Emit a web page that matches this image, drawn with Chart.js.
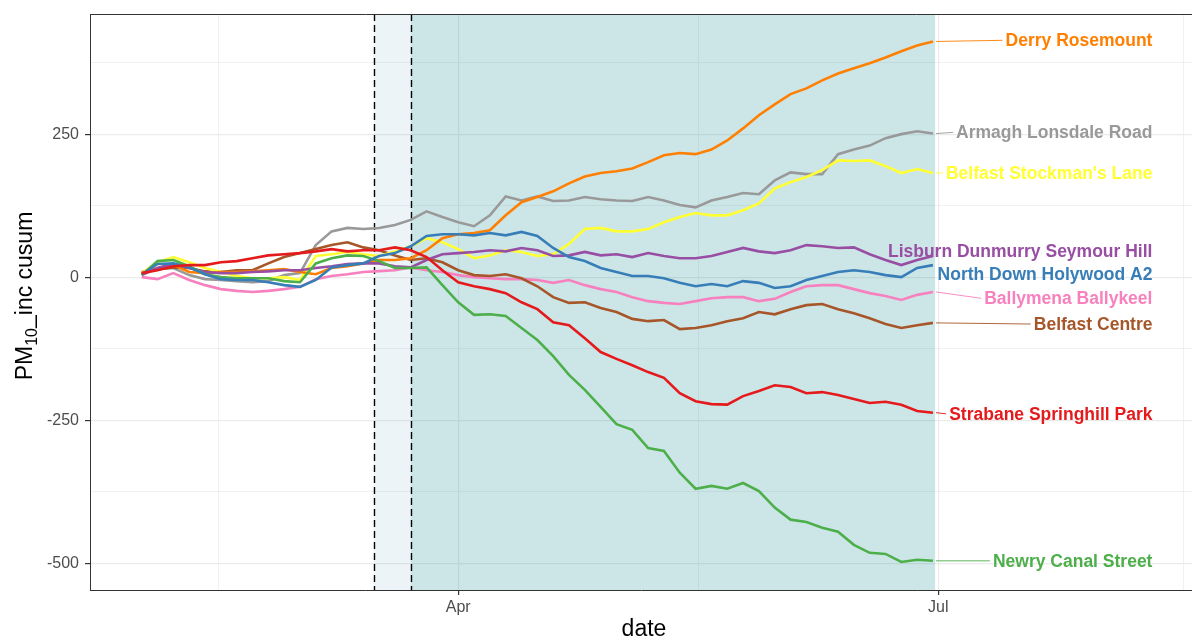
<!DOCTYPE html>
<html>
<head>
<meta charset="utf-8">
<script src="https://cdn.jsdelivr.net/npm/chart.js@4.4.1/dist/chart.umd.min.js"></script>
<style>
  html, body { margin: 0; padding: 0; background: #fff; }
  #wrap { width: 1192px; height: 639px; }
</style>
</head>
<body>
<div id="wrap"><canvas id="mainChart" width="1192" height="639"></canvas></div>
<script>
// fechas (cada 3 dias)
const dates = ['2020-02-01','2020-02-04','2020-02-07','2020-02-10','2020-02-13','2020-02-16','2020-02-19','2020-02-22','2020-02-25','2020-02-28',
  '2020-03-02','2020-03-05','2020-03-08','2020-03-11','2020-03-14','2020-03-17','2020-03-20','2020-03-23','2020-03-26','2020-03-29',
  '2020-04-01','2020-04-04','2020-04-07','2020-04-10','2020-04-13','2020-04-16','2020-04-19','2020-04-22','2020-04-25','2020-04-28',
  '2020-05-01','2020-05-04','2020-05-07','2020-05-10','2020-05-13','2020-05-16','2020-05-19','2020-05-22','2020-05-25','2020-05-28',
  '2020-05-31','2020-06-03','2020-06-06','2020-06-09','2020-06-12','2020-06-15','2020-06-18','2020-06-21','2020-06-24','2020-06-27',
  '2020-06-30'];

const sites = ['Strabane Springhill Park','North Down Holywood A2','Newry Canal Street','Lisburn Dunmurry Seymour Hill',
  'Derry Rosemount',"Belfast Stockman's Lane",'Belfast Centre','Ballymena Ballykeel','Armagh Lonsdale Road'];
const colors = ['#E41A1C','#377EB8','#4DAF4A','#984EA3','#FF7F00','#FFFF33','#A65628','#F781BF','#999999'];

const strabane = [7,12,19,21,21,26,28,33,38,40, 42,45,49,45,47,47,52,47,35,12, -9,-16,-21,-28,-44,-56,-79,-84,-107,-131,
  -143,-154,-166,-176,-203,-217,-222,-223,-208,-199, -189,-192,-203,-201,-206,-213,-220,-218,-223,-234, -237];
const northDown = [5,23,24,17,5,-3.5,-5,-5,-9,-14, -17,-5,17,21,24,37,42,54,72,75, 75,73,77,73,79,72,51,35,28,16,
  9,2,2,-2,-10,-16,-12,-16,-7,-10, -19,-16,-5,2,9,12,9,3.5,0,16, 21];
const newry = [3.5,28,30,19,5,0,-2,-2,-2,-7, -9,24,33,38,37,28,16,16,17,-14, -44,-66,-65,-68,-89,-110,-138,-171,-197,-227,
  -257,-267,-299,-304,-342,-370,-365,-370,-360,-374, -403,-424,-428,-438,-445,-468,-482,-484,-498,-494, -496];
const lisburn = [3.5,16,23,16,9,7,7,9,10,12, 12,16,19,23,24,24,19,17,30,40, 42,44,47,45,51,47,37,38,44,38,
  40,35,42,37,33,33,37,44,51,45, 42,47,56,54,51,52,40,30,21,30, 37];
const derry = [7,16,21,9,7,9,9,10,12,14, 9,5,16,19,24,30,30,33,47,68, 75,77,82,108,131,140,150,164,176,182,
  185,190,201,213,217,215,223,239,260,283, 302,320,330,344,356,365,374,384,395,405, 412];
const stockmans = [7,26,35,26,16,9,2,-2,-2,0, -5,37,40,44,40,37,45,54,68,61, 49,33,38,47,44,37,40,58,84,86,
  80,80,84,96,105,112,108,108,117,129, 155,166,175,187,204,203,204,194,182,189, 182];
const belfastCentre = [9,14,17,16,10,9,12,12,24,35, 42,49,56,61,52,47,38,30,33,26, 12,3.5,2,5,-2,-16,-35,-45,-44,-54,
  -61,-73,-77,-75,-91,-89, -84,-77,-72,-61,-65,-56,-49,-47,-56,-63,-72,-82,-89,-84, -80];
const ballymena = [0,-3.5,7,-5,-14,-21,-24,-26,-24,-21, -17,-3.5,2,5,9,10.5,12,17,12,9, 3.5,0,-2,-3.5,-3.5,-5,-10,-5,-14,-21,
  -26,-35,-42,-45,-47,-42,-37,-35,-35,-42, -38,-26,-16,-14,-14,-21,-28,-33,-40,-31, -26];
const armagh = [7,14,16,3.5,-3.5,-5,-7,-9,-7,3.5, 7,56,80,86,84,86,91,100,115,105, 96,89,108,141,134,141,133,134,140,136,
  134,133,140,134,126,122,134,140,147,145, 169,183,180,180,215,223,230,243,250,255, 251];
const seriesValues = [strabane, northDown, newry, lisburn, derry, stockmans, belfastCentre, ballymena, armagh];

// posicion vertical de cada etiqueta (en unidades del eje y)
const labelValues = [-239, 5, -496, 45, 414, 182, -82, -37, 253];

// ejes
const yMajor = [-500, -250, 0, 250];
const yMinor = [-375, -125, 125, 375];
const xTickDates = ['2020-04-01', '2020-07-01'];
const xTickLabels = ['Apr', 'Jul'];
const xMinorDates = ['2020-02-15T12:00', '2020-05-16T12:00', '2020-08-16T12:00'];

const restrictStart = '2020-03-16';
const lockdownStart = '2020-03-23';
const periodEnd = '2020-06-30';

function dayOf(s){
  const d = new Date(s + (s.length === 10 ? 'T00:00Z' : 'Z'));
  return (d - Date.UTC(2020, 0, 1)) / 86400000;
}

const FONT = "'Liberation Sans', Arial, Helvetica, sans-serif";
const xMajorDays = xTickDates.map(dayOf);
const xGrid = xMinorDates.map(dayOf).concat(xMajorDays).sort((a,b) => a-b);
const yGrid = yMinor.concat(yMajor).sort((a,b) => a-b);

const datasets = sites.map((name, i) => ({
  label: name,
  data: dates.map((d, j) => ({ x: dayOf(d), y: seriesValues[i][j] })),
  borderColor: colors[i],
  borderWidth: 2.6,
  pointRadius: 0,
  tension: 0,
  fill: false
}));

const bgPlugin = {
  id: 'periods',
  beforeDatasetsDraw(chart){
    const {ctx, chartArea: a, scales: {x}} = chart;
    const x0 = x.getPixelForValue(dayOf(restrictStart));
    const x1 = x.getPixelForValue(dayOf(lockdownStart));
    const x2 = x.getPixelForValue(dayOf(periodEnd) + 0.4);
    ctx.save();
    ctx.fillStyle = 'rgba(70,150,190,0.1)';
    ctx.fillRect(x0, a.top, x1 - x0, a.bottom - a.top);
    ctx.fillStyle = 'rgba(0,130,140,0.2)';
    ctx.fillRect(x1, a.top, x2 - x1, a.bottom - a.top);
    ctx.strokeStyle = '#000';
    ctx.lineWidth = 1.4;
    ctx.setLineDash([7, 4]);
    [x0, x1].forEach(px => {
      ctx.beginPath();
      ctx.moveTo(Math.round(px) + 0.5, a.top);
      ctx.lineTo(Math.round(px) + 0.5, a.bottom);
      ctx.stroke();
    });
    ctx.restore();
  }
};

const labelPlugin = {
  id: 'siteLabels',
  afterDraw(chart){
    const {ctx, chartArea: a, scales: {x, y}} = chart;
    ctx.save();
    // borde superior del panel
    ctx.strokeStyle = '#333';
    ctx.lineWidth = 1;
    ctx.beginPath();
    ctx.moveTo(a.left, a.top + 0.5);
    ctx.lineTo(a.right, a.top + 0.5);
    ctx.stroke();

    const rightPx = x.getPixelForValue(222.6);
    ctx.font = 'bold 17.5px ' + FONT;
    ctx.textAlign = 'right';
    ctx.textBaseline = 'middle';
    sites.forEach((name, i) => {
      const vals = seriesValues[i];
      const ex = x.getPixelForValue(dayOf(dates[dates.length - 1])) + 3;
      const ey = y.getPixelForValue(vals[vals.length - 1]);
      const ly = y.getPixelForValue(labelValues[i]);
      const w = ctx.measureText(name).width;
      const lx = rightPx - w - 3;
      if (lx > ex + 2) {
        ctx.strokeStyle = colors[i];
        ctx.lineWidth = 0.9;
        ctx.beginPath();
        ctx.moveTo(ex, ey);
        ctx.lineTo(lx, ly);
        ctx.stroke();
      }
      ctx.fillStyle = colors[i];
      ctx.fillText(name, rightPx, ly + 1);
    });

    // titulo eje y con subindice
    ctx.fillStyle = '#000';
    ctx.textAlign = 'left';
    ctx.textBaseline = 'alphabetic';
    const big = '23px ' + FONT, small = '16px ' + FONT;
    ctx.font = big;
    const w1 = ctx.measureText('PM').width;
    const w3 = ctx.measureText('_inc cusum').width;
    ctx.font = small;
    const w2 = ctx.measureText('10').width;
    const total = w1 + w2 + w3;
    const cy = 296;
    ctx.translate(32, cy + total / 2);
    ctx.rotate(-Math.PI / 2);
    ctx.font = big;
    ctx.fillText('PM', 0, 0);
    ctx.font = small;
    ctx.fillText('10', w1, 5);
    ctx.font = big;
    ctx.fillText('_inc cusum', w1 + w2, 0);
    ctx.setTransform(1, 0, 0, 1, 0, 0);

    ctx.textAlign = 'center';
    ctx.fillText('date', (a.left + a.right) / 2 + 3, 636);
    ctx.restore();
  }
};

const isMajorX = v => xMajorDays.some(d => Math.abs(d - v) < 0.01);

new Chart(document.getElementById('mainChart').getContext('2d'), {
  type: 'line',
  data: { datasets },
  options: {
    responsive: false,
    animation: false,
    devicePixelRatio: 1,
    layout: { padding: { top: 14, right: 0, left: 0, bottom: 0 } },
    plugins: { legend: { display: false }, tooltip: { enabled: false } },
    scales: {
      x: {
        type: 'linear',
        min: 21.2,
        max: 230.1,
        afterBuildTicks: s => { s.ticks = xGrid.map(v => ({ value: v })); },
        afterFit: s => { s.height = 49; s.paddingLeft = 0; s.paddingRight = 0; },
        ticks: {
          autoSkip: false,
          maxRotation: 0,
          padding: 3,
          color: '#4D4D4D',
          font: { family: FONT, size: 16 },
          callback: v => {
            const k = xMajorDays.findIndex(d => Math.abs(d - v) < 0.01);
            return k >= 0 ? xTickLabels[k] : '';
          }
        },
        grid: {
          color: '#EBEBEB',
          lineWidth: c => (c.tick && isMajorX(c.tick.value)) ? 1.2 : 0.7,
          tickColor: c => (c.tick && isMajorX(c.tick.value)) ? '#333' : 'rgba(0,0,0,0)',
          tickLength: 5
        },
        border: { display: true, color: '#333', width: 1 }
      },
      y: {
        type: 'linear',
        min: -547,
        max: 460,
        afterBuildTicks: s => { s.ticks = yGrid.map(v => ({ value: v })); },
        afterFit: s => { s.width = 90; s.paddingTop = 0; s.paddingBottom = 0; },
        ticks: {
          padding: 6,
          color: '#4D4D4D',
          font: { family: FONT, size: 16 },
          callback: v => yMajor.includes(v) ? String(v) : ''
        },
        grid: {
          color: '#EBEBEB',
          lineWidth: c => (c.tick && yMajor.includes(c.tick.value)) ? 1.2 : 0.7,
          tickColor: c => (c.tick && yMajor.includes(c.tick.value)) ? '#333' : 'rgba(0,0,0,0)',
          tickLength: 5
        },
        border: { display: true, color: '#333', width: 1 }
      }
    }
  },
  plugins: [bgPlugin, labelPlugin]
});
</script>
</body>
</html>
